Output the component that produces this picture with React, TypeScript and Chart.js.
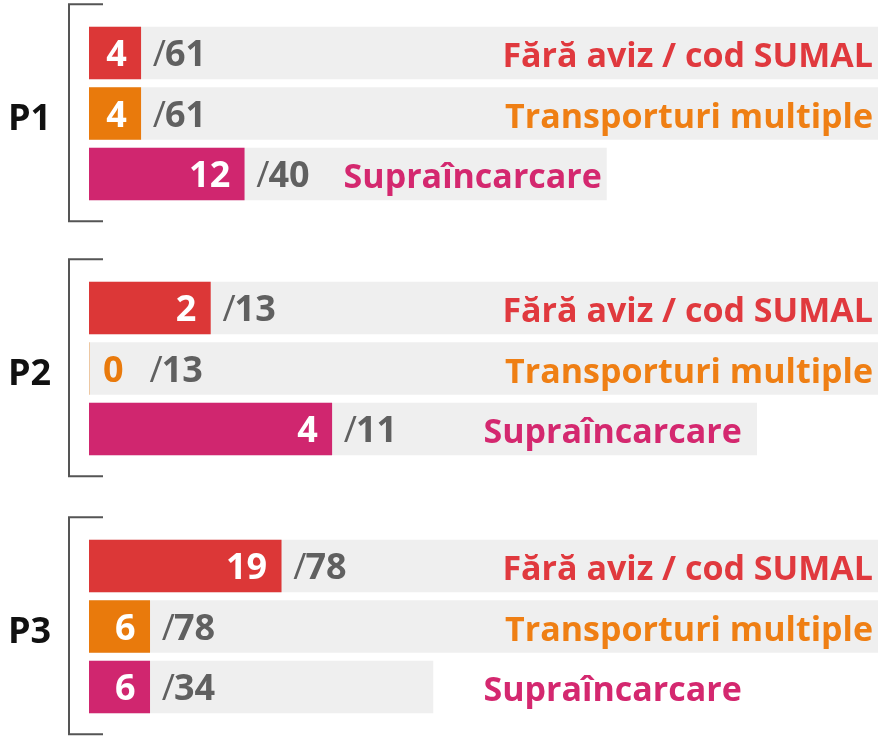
import React, { useEffect, useRef } from 'react';
import { Chart, registerables } from 'chart.js';

Chart.register(...registerables);

// ---- data ----
const groupNames = ['P1', 'P2', 'P3'];
const categories = ['Fără aviz / cod SUMAL', 'Transporturi multiple', 'Supraîncarcare'];
const p1Counts = [4, 4, 12];
const p1Totals = [61, 61, 40];
const p2Counts = [2, 0, 4];
const p2Totals = [13, 13, 11];
const p3Counts = [19, 6, 6];
const p3Totals = [78, 78, 34];

const groupCounts = [p1Counts, p2Counts, p3Counts];
const groupTotals = [p1Totals, p2Totals, p3Totals];

// ---- style ----
const barColors = ['#dc3737', '#e97a0c', '#d0266f'];
const labelColors = ['#e0393e', '#ef7f14', '#d4286f'];
const trackColor = '#efefef';
const totalColor = '#606060';
const groupTops = [0, 255, 513];
const lastLabelMode = ['afterTotal', 'mid', 'mid'];
const FONT = '"Open Sans", sans-serif';
const CANVAS_W = 878;
const CANVAS_H = 224;

function GroupChart({ index }: { index: number }) {
  const ref = useRef<HTMLCanvasElement | null>(null);

  useEffect(() => {
    const counts = groupCounts[index];
    const totals = groupTotals[index];
    const maxTotal = Math.max(...totals);

    const labelPlugin = {
      id: 'groupLabels',
      afterDatasetsDraw(chart: any) {
        const { ctx, chartArea, scales } = chart;
        const meta = chart.getDatasetMeta(0);
        ctx.save();

        // bracket
        const bx = chartArea.left - 20;
        const top = chartArea.top - 18.5;
        const bottom = chartArea.bottom + 17;
        ctx.strokeStyle = '#555555';
        ctx.lineWidth = 2;
        ctx.beginPath();
        ctx.moveTo(chartArea.left + 14, top);
        ctx.lineTo(bx, top);
        ctx.lineTo(bx, bottom);
        ctx.lineTo(chartArea.left + 14, bottom);
        ctx.stroke();

        // group name
        const midY = (chartArea.top + chartArea.bottom) / 2;
        ctx.fillStyle = '#111111';
        ctx.font = `bold 36px ${FONT}`;
        ctx.textAlign = 'left';
        ctx.textBaseline = 'alphabetic';
        ctx.fillText(groupNames[index], 8, midY + 16.5);

        const pad = 14;
        meta.data.forEach((bar: any, i: number) => {
          const p = bar.getProps(['x', 'y', 'base'], true);
          const numBase = p.y + 13;
          const countText = String(counts[i]);
          ctx.font = `bold 36px ${FONT}`;
          const cw = ctx.measureText(countText).width;
          const boxEnd = Math.max(p.x, p.base + cw + 2 * pad);
          const countEnd = boxEnd - pad;
          ctx.textAlign = 'right';
          ctx.fillStyle = counts[i] === 0 ? barColors[i] : '#ffffff';
          ctx.fillText(countText, countEnd, numBase);

          // total "/NN"
          ctx.textAlign = 'left';
          let tx = boxEnd + 12;
          ctx.fillStyle = totalColor;
          ctx.font = `normal 36px ${FONT}`;
          ctx.fillText('/', tx, numBase);
          tx += ctx.measureText('/').width - 1;
          ctx.font = `bold 36px ${FONT}`;
          const tt = String(totals[i]);
          ctx.fillText(tt, tx, numBase);
          tx += ctx.measureText(tt).width;

          // category label
          const labBase = p.y + 14;
          ctx.fillStyle = labelColors[i];
          ctx.font = `bold 34px ${FONT}`;
          if (i < 2) {
            ctx.textAlign = 'right';
            ctx.fillText(categories[i], chartArea.right - 5, labBase);
          } else {
            ctx.textAlign = 'left';
            const lx =
              lastLabelMode[index] === 'afterTotal'
                ? tx + 34
                : scales.x.getPixelForValue(maxTotal * 0.5);
            ctx.fillText(categories[i], lx, labBase);
          }
        });
        ctx.restore();
      },
    };

    const chart = new Chart(ref.current as HTMLCanvasElement, {
      type: 'bar',
      data: {
        labels: categories,
        datasets: [
          {
            label: 'count',
            data: counts,
            backgroundColor: barColors,
            barThickness: 52,
            grouped: false,
            order: 0,
            borderWidth: 0,
          },
          {
            label: 'total',
            data: totals,
            backgroundColor: trackColor,
            barThickness: 52,
            grouped: false,
            order: 1,
            borderWidth: 0,
          },
        ],
      },
      options: {
        indexAxis: 'y',
        responsive: false,
        animation: false,
        events: [],
        layout: { padding: { left: 89, right: 0, top: 22.75, bottom: 19.75 } },
        scales: {
          x: { type: 'linear', min: 0, max: maxTotal, display: false },
          y: { type: 'category', display: false, offset: true },
        },
        plugins: {
          legend: { display: false },
          tooltip: { enabled: false },
        },
      },
      plugins: [labelPlugin],
    } as any);

    return () => chart.destroy();
  }, [index]);

  return (
    <canvas
      ref={ref}
      width={CANVAS_W}
      height={CANVAS_H}
      style={{
        position: 'absolute',
        left: 0,
        top: groupTops[index],
        width: CANVAS_W,
        height: CANVAS_H,
      }}
    />
  );
}

export default function App() {
  return (
    <div
      style={{
        position: 'fixed',
        left: 0,
        top: 0,
        width: CANVAS_W,
        height: 737,
        overflow: 'hidden',
        background: '#ffffff',
      }}
    >
      {groupNames.map((_, i) => (
        <GroupChart key={i} index={i} />
      ))}
    </div>
  );
}
